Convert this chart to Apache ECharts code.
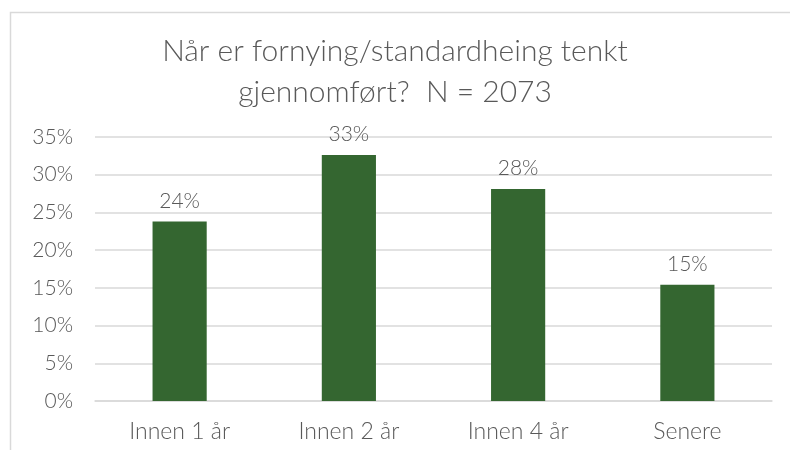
<!DOCTYPE html>
<html>
<head>
<meta charset="utf-8">
<style>
  html, body { margin: 0; padding: 0; background: #fff; }
  #chart { width: 790px; height: 450px; }
</style>
<script src="https://cdn.jsdelivr.net/npm/echarts@6/dist/echarts.min.js"></script>
</head>
<body>
<div id="chart"></div>
<script>
// data
const categories = ["Innen 1 år", "Innen 2 år", "Innen 4 år", "Senere"];
const shares = [23.8, 32.6, 28.1, 15.4];
const titleText = "Når er fornying/standardheing tenkt\ngjennomført?  N = 2073";

const font = "Lato";
const textColor = "#595959";

let myChart = echarts.init(document.getElementById("chart"));
let option = {
  backgroundColor: "#fff",
  animation: false,
  graphic: [
    {
      type: "rect",
      shape: { x: 10.5, y: 12.5, width: 800, height: 460 },
      style: { fill: "none", stroke: "#d9d9d9", lineWidth: 1.5 },
      z: -1
    }
  ],
  title: {
    text: titleText,
    left: "center",
    top: 26,
    textStyle: {
      fontFamily: font,
      fontWeight: 300,
      fontSize: 30,
      lineHeight: 41,
      color: textColor
    }
  },
  grid: {
    left: 95,
    right: 18,
    top: 137,
    bottom: 49
  },
  xAxis: {
    type: "category",
    data: categories,
    axisTick: { show: false },
    axisLine: { show: true, lineStyle: { color: "#d9d9d9", width: 1.5 } },
    axisLabel: {
      margin: 19,
      fontFamily: font,
      fontWeight: 300,
      fontSize: 23,
      color: textColor
    }
  },
  yAxis: {
    type: "value",
    min: 0,
    max: 35,
    interval: 5,
    axisLine: { show: false },
    axisTick: { show: false },
    splitLine: { lineStyle: { color: "#d9d9d9", width: 1.5 } },
    axisLabel: {
      margin: 22,
      formatter: "{value}%",
      fontFamily: font,
      fontWeight: 300,
      fontSize: 21,
      color: textColor
    }
  },
  series: [
    {
      type: "bar",
      data: shares,
      barWidth: "32%",
      itemStyle: { color: "#346630" },
      label: {
        show: true,
        position: "top",
        distance: 10,
        formatter: (p) => Math.round(p.value) + "%",
        fontFamily: font,
        fontWeight: 300,
        fontSize: 21,
        color: textColor
      }
    }
  ]
};
myChart.setOption(option);
</script>
</body>
</html>
